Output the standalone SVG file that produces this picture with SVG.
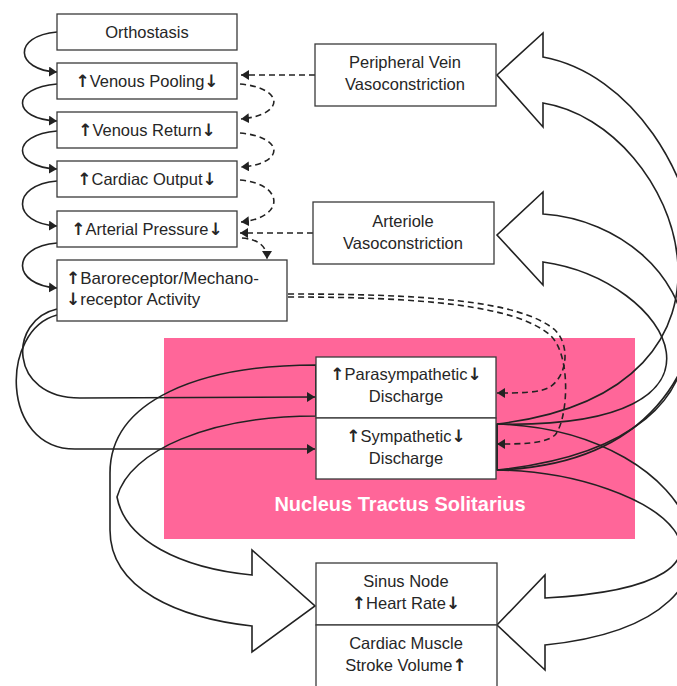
<svg xmlns="http://www.w3.org/2000/svg" width="677" height="686" viewBox="0 0 677 686">
<style>
.box{fill:#fff;stroke:#3a3a3a;stroke-width:1.3}
.t{font-family:"Liberation Sans",Arial,sans-serif;font-size:16.5px;fill:#262626}
.c{text-anchor:middle}
.ar{font-family:"DejaVu Sans",sans-serif;font-size:17px;font-weight:bold}
.sol{fill:none;stroke:#222;stroke-width:1.6}
.dash{fill:none;stroke:#222;stroke-width:1.6;stroke-dasharray:6 4}
.blk{fill:none;stroke:#222;stroke-width:1.6}
.nts{fill:#FF6699}
.ntst{font-family:"Liberation Sans",Arial,sans-serif;font-size:20px;font-weight:bold;fill:#fff;text-anchor:middle}
</style>
<defs>
<marker id="ah" viewBox="0 0 8 10" refX="8" refY="5" markerWidth="8" markerHeight="10" markerUnits="userSpaceOnUse" orient="auto"><path d="M0,0 L8,5 L0,10 z" fill="#222"/></marker>
</defs>
<g id="nts">
<rect class="nts" x="164" y="338" width="471" height="201"/>
<text class="ntst" x="400" y="511">Nucleus Tractus Solitarius</text>
</g>
<g id="connectors">
<path class="sol" d="M57,32 C12,36 15,70 57,72" marker-end="url(#ah)"/>
<path class="sol" d="M57,84 C10,88 12,119 57,121" marker-end="url(#ah)"/>
<path class="sol" d="M57,131 C10,135 12,167 57,169" marker-end="url(#ah)"/>
<path class="sol" d="M57,181 C10,185 12,224 57,226" marker-end="url(#ah)"/>
<path class="sol" d="M57,243 C10,247 12,285 57,288" marker-end="url(#ah)"/>
<path class="sol" d="M57,309 C8,320 8,398 80,398 L315,397" marker-end="url(#ah)"/>
<path class="sol" d="M57,315 C0,330 0,449 75,449 L315,449" marker-end="url(#ah)"/>
<path class="dash" d="M315,75 L241,75" marker-end="url(#ah)"/>
<path class="dash" d="M240,84 C285,88 285,115 241,119" marker-end="url(#ah)"/>
<path class="dash" d="M240,133 C285,137 285,164 241,167" marker-end="url(#ah)"/>
<path class="dash" d="M240,180 C285,184 285,218 241,222" marker-end="url(#ah)"/>
<path class="dash" d="M313,233 L240,233" marker-end="url(#ah)"/>
<path class="dash" d="M242,238 Q267,240 267,259" marker-end="url(#ah)"/>
<path class="dash" d="M288,294 C420,294 520,300 555,330 C570,345 568,375 550,387 C540,393 520,393 497,393" marker-end="url(#ah)"/>
<path class="dash" d="M288,297 C420,297 515,305 550,335 C572,355 568,420 555,435 C545,444 520,444 497,444" marker-end="url(#ah)"/>
<path class="blk" d="M497,470 C800,460 720,90 543,57 L543,33 L497,75 L543,127 L543,103 C680,125 780,390 497,424 Z"/>
<path class="blk" d="M497,470 C780,440 700,225 543,214 L543,192 L497,235 L543,285 L543,262 C670,280 760,430 497,424"/>
<path class="blk" d="M497,424 C700,430 790,620 545,645 L545,670 L497,625 L545,575 L545,598 C790,585 660,472 497,470"/>
<path class="blk" d="M316,365 C200,365 110,400 110,473 L110,530 C110,590 180,618 252,626 L252,652 L315,606 L252,550 L252,575 C180,568 125,540 117,497 C130,450 210,416 316,416 Z"/>
<path class="blk" d="M497,424 L497,470" stroke-width="3"/>
<path class="blk" d="M316,365 L316,416" stroke-width="2.5"/>
</g>
<g id="orthostasis"><rect class="box" x="57" y="14" width="180" height="36"/><text class="t c" x="147" y="38">Orthostasis</text></g>
<g id="venous-pooling"><rect class="box" x="57" y="63" width="180" height="36"/><text class="t c" x="147" y="87"><tspan class="ar">↑</tspan>Venous Pooling<tspan class="ar">↓</tspan></text></g>
<g id="venous-return"><rect class="box" x="57" y="112" width="180" height="36"/><text class="t c" x="147" y="136"><tspan class="ar">↑</tspan>Venous Return<tspan class="ar">↓</tspan></text></g>
<g id="cardiac-output"><rect class="box" x="57" y="161" width="180" height="36"/><text class="t c" x="147" y="185"><tspan class="ar">↑</tspan>Cardiac Output<tspan class="ar">↓</tspan></text></g>
<g id="arterial-pressure"><rect class="box" x="57" y="211" width="180" height="36"/><text class="t c" x="147" y="235"><tspan class="ar">↑</tspan>Arterial Pressure<tspan class="ar">↓</tspan></text></g>
<g id="baroreceptor"><rect class="box" x="57" y="260" width="230" height="61"/><text class="t" x="66" y="284" style="font-size:17px"><tspan class="ar">↑</tspan>Baroreceptor/Mechano-</text><text class="t" x="66" y="305" style="font-size:17px"><tspan class="ar">↓</tspan>receptor Activity</text></g>
<g id="peripheral-vein"><rect class="box" x="315" y="44" width="181" height="62"/><text class="t c" x="405" y="68">Peripheral Vein</text><text class="t c" x="405" y="90">Vasoconstriction</text></g>
<g id="arteriole"><rect class="box" x="313" y="202" width="181" height="62"/><text class="t c" x="403" y="227">Arteriole</text><text class="t c" x="403" y="249">Vasoconstriction</text></g>
<g id="parasympathetic"><rect class="box" x="316" y="357" width="180" height="61"/><text class="t c" x="406" y="380"><tspan class="ar">↑</tspan>Parasympathetic<tspan class="ar">↓</tspan></text><text class="t c" x="406" y="402">Discharge</text></g>
<g id="sympathetic"><rect class="box" x="316" y="418" width="180" height="61"/><text class="t c" x="406" y="442"><tspan class="ar">↑</tspan>Sympathetic<tspan class="ar">↓</tspan></text><text class="t c" x="406" y="464">Discharge</text></g>
<g id="sinus-node"><rect class="box" x="316" y="563" width="181" height="62"/><text class="t c" x="406" y="587">Sinus Node</text><text class="t c" x="406" y="609"><tspan class="ar">↑</tspan>Heart Rate<tspan class="ar">↓</tspan></text></g>
<g id="cardiac-muscle"><rect class="box" x="316" y="625" width="181" height="66"/><text class="t c" x="406" y="649">Cardiac Muscle</text><text class="t c" x="406" y="671">Stroke Volume<tspan class="ar">↑</tspan></text></g>
</svg>
